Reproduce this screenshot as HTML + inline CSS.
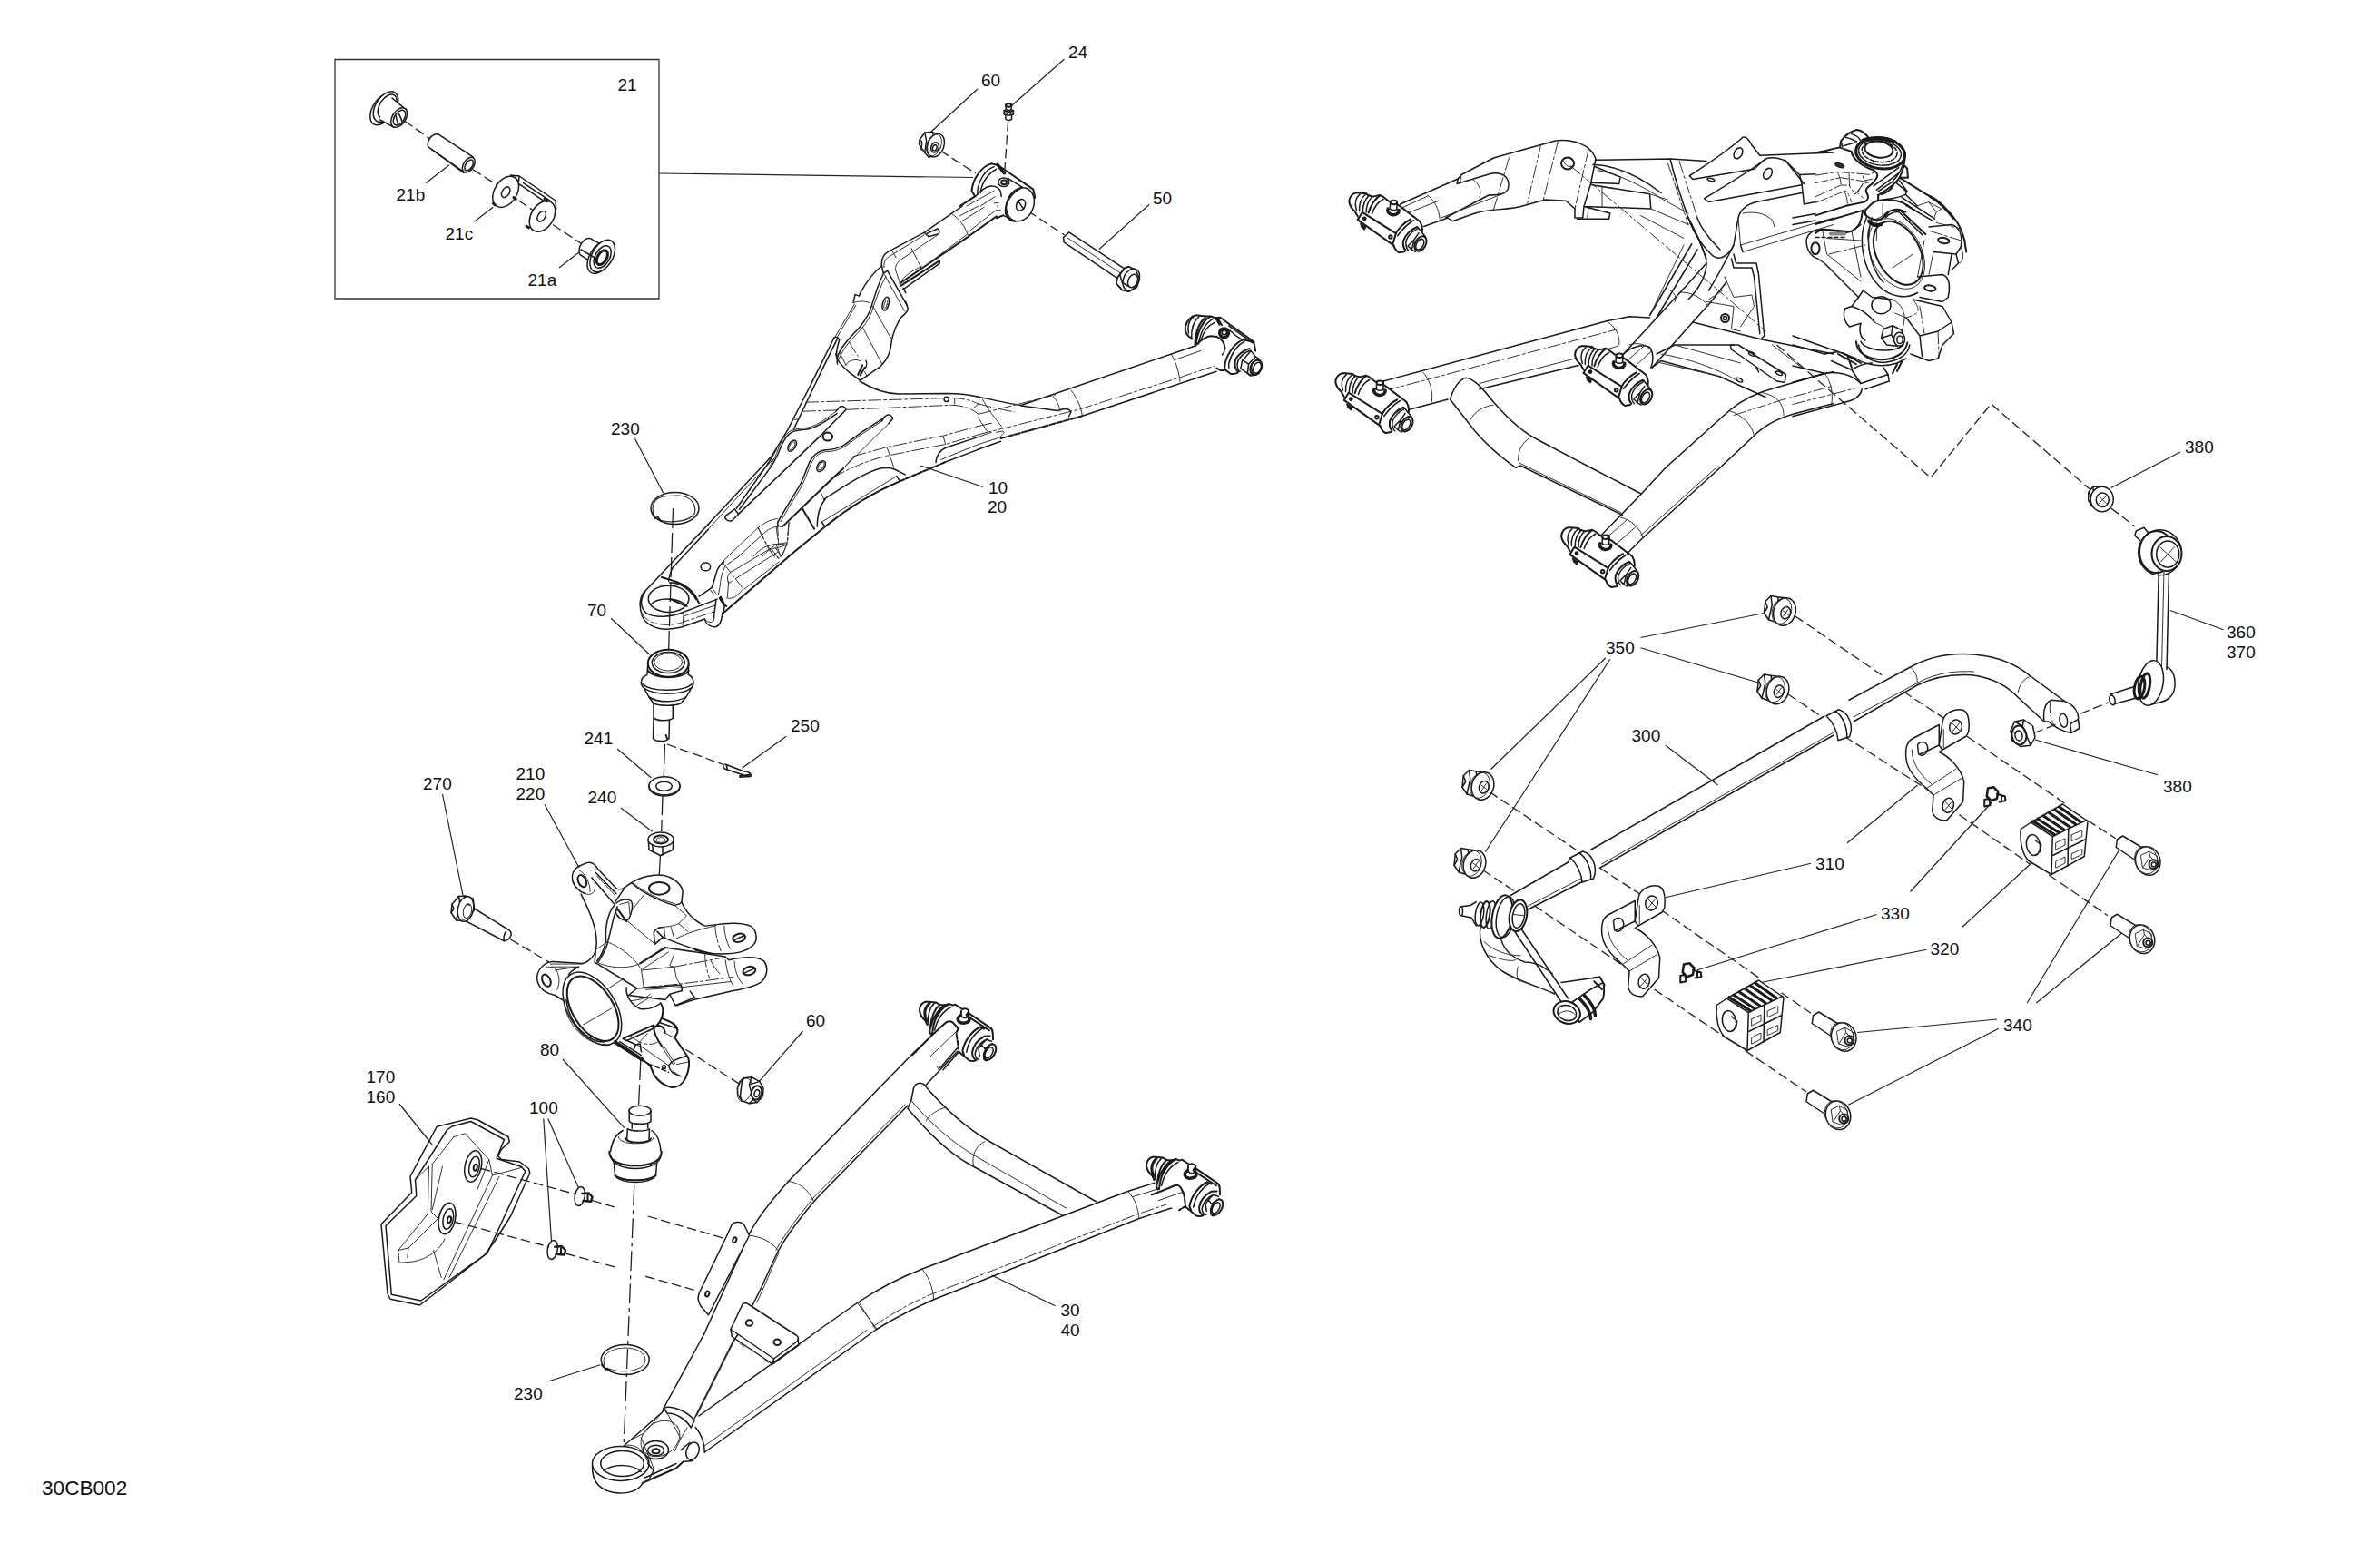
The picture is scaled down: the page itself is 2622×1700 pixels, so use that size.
<!DOCTYPE html>
<html><head><meta charset="utf-8">
<style>
html,body{margin:0;padding:0;background:#fff;}
body{width:2622px;height:1700px;overflow:hidden;font-family:"Liberation Sans",sans-serif;}
svg{display:block;}
svg text{font-family:"Liberation Sans",sans-serif;font-size:19px;fill:#111;}
.s{fill:none;stroke:#1a1a1a;stroke-width:1.5;stroke-linecap:round;stroke-linejoin:round;vector-effect:non-scaling-stroke;}
.s *{vector-effect:non-scaling-stroke;}
.w{fill:#fff;}
.t{stroke-width:1 !important;stroke:#333 !important;}
.p{stroke-width:1 !important;stroke:#333 !important;stroke-dasharray:14 3 3 3;}
.b{stroke-width:2 !important;}
.l{fill:none;stroke:#222;stroke-width:1.2;vector-effect:non-scaling-stroke;}
.l *{vector-effect:non-scaling-stroke;}
.d{fill:none;stroke:#222;stroke-width:1.3;stroke-dasharray:10.5 4.5;vector-effect:non-scaling-stroke;}
.d *{vector-effect:non-scaling-stroke;}
</style></head>
<body>
<svg width="2622" height="1700" viewBox="0 0 2622 1700">
<rect width="2622" height="1700" fill="#fff"/>
<!--LABELS-->
<g id="labels">
<text x="1769" y="719.5">350</text>
<text x="1797.5" y="816.5">300</text>
<text x="2000" y="958">310</text>
<text x="2072" y="1012.5">330</text>
<text x="2126.5" y="1051.5">320</text>
<text x="2207" y="1136">340</text>
<text x="2383" y="872.5">380</text>
<text x="2407" y="499">380</text>
<text x="2453" y="703">360</text>
<text x="2453" y="724.5">370</text>
<text x="46" y="1647.3" style="font-size:22.6px">30CB002</text>
<text x="673" y="479">230</text>
<text x="647" y="679">70</text>
<text x="1168.5" y="1450">30</text>
<text x="1168.5" y="1471.5">40</text>
<text x="403.5" y="1193">170</text>
<text x="403.5" y="1214.5">160</text>
<text x="566" y="1541.5">230</text>
<text x="888" y="1130.5">60</text>
<text x="595" y="1162.5">80</text>
<text x="583" y="1226.5">100</text>
<text x="871" y="806">250</text>
<text x="643.5" y="819.5">241</text>
<text x="568.5" y="859">210</text>
<text x="568.5" y="880.5">220</text>
<text x="466" y="869.5">270</text>
<text x="647.5" y="885">240</text>
<text x="1177" y="64">24</text>
<text x="1081" y="94.5">60</text>
<text x="1270" y="224.5">50</text>
<text x="1089" y="543.5">10</text>
<text x="1088" y="565">20</text>
<text x="680.5" y="99.5">21</text>
<text x="436.5" y="220.5">21b</text>
<text x="490.5" y="263.5">21c</text>
<text x="581.5" y="314.5">21a</text>
</g>
<!--LEADERS-->
<g id="leaders" class="l">
<path d="M1807.5,702.5 L1946.25,675 M1807.5,713.75 L1938.75,752.5 M1768.75,725 L1642.5,847.5 M1773.75,726.25 L1636.25,938.75"/>
<path d="M1835,821.25 L1892.5,865 M1995,951.25 L1835,988.75 M2112.5,865 L2035,928.75 M2067.5,1007.5 L1870,1068.75 M2194.5,883.75 L2104.5,982.5 M2122.5,1046.25 L1940,1082.5 M2247,942.5 L2162,1021.25"/>
<path d="M2377,853.75 L2242,815 M2402,498 L2325.75,537.5 M2390.75,672.5 L2449.5,693.75"/>
<path d="M2337,932.5 L2233.25,1105 M2338.25,1027.5 L2243.25,1105 M2046.25,1137.5 L2200,1123 M2036.3,1217.2 L2201.8,1133.2"/>
<path d="M1092.5,1405 L1162.5,1438.75"/>
<path d="M440,1216.25 L476.25,1261.25 M598.75,1232.5 L607.5,1367.5 M603.75,1232.5 L637.5,1308.75 M603.75,1522 L661.25,1503.75 M884.5,1136 L836.5,1191.4"/>
<path d="M620,1167 L687.7,1242.7"/>
<path d="M866.25,811.25 L817.5,846.25 M680,825 L717.5,857 M683.75,890 L718.75,916.25 M600,886.25 L637.5,955 M487.5,875 L510,986.25 M673.2,681.2 L715.8,721.3 M699.5,483.2 L730.8,543.3"/>
<path d="M1172.5,65 L1115,116 M1077,98 L1026,145 M1266,225.5 L1211,274.5"/>
<path d="M1014,513 L1083,536.5"/>
<path d="M495,181.7 L469,201.7 M543.3,228.3 L522.5,244.2 M637.5,278.3 L616,295"/>
<path d="M726,191 L1072,195.5"/>
</g>
<!--DASHED-->
<g id="dashed" class="d">
<path d="M1957.5,380 L2127,526.25 L2193.5,445 L2302,538.75 M2325.75,560 L2352,580"/>
<path d="M1641,872.5 L1740,938.75 M1762.5,956.25 L1820,993.75 M1830,1002.5 L1940,1078.75 M1962.5,1093.75 L1995,1116.25"/>
<path d="M1633.75,958.75 L1671.25,983.75 M1690,997.5 L1790,1065 M1822.5,1090 L1900,1142.5 M1922.5,1157.5 L1990,1203"/>
<path d="M1977.5,678.75 L2075,745 M2097,762 L2155,800 M2167,811.25 L2274.5,885 M2299.5,903.75 L2330.75,923.75"/>
<path d="M1970,765 L2007.5,790 M2032,811.25 L2125,871 M2158.25,897.5 L2237,952.5 M2257,963.75 L2322,1008.75"/>
<path d="M2240.75,807.5 L2267,797.5 M2292,786.25 L2323.25,773.75"/>
<path d="M530,1287.5 L636.25,1316.25 M652.5,1322.5 L677.5,1330 M713.75,1340 L800,1365 M501.25,1346.25 L605,1373.75 M623.75,1381.25 L678.75,1396.25 M711.25,1406.25 L768.75,1422.5"/>
<path style="stroke-dasharray:22 5 4 5" d="M698.75,1306.25 L686,1622"/>
<path d="M755.3,1156.3 L814.1,1193.9"/>
<path style="stroke-dasharray:22 5" d="M705.8,1168 L703.3,1224"/>
<path d="M735,820 L797.5,842.5 M562.5,1035 L605,1060"/>
<path style="stroke-dasharray:22 5" d="M741.5,560 L736.5,720 M732.5,820 L731.25,856 M730,876 L728.75,916 M727.5,942.5 L726.25,964"/>
<path d="M1110.5,134 L1107,186 M1036,166 L1075,191 M1132.5,232.5 L1172.5,258.75"/>
<path d="M445.8,133.3 L473.3,152.5 M520.8,186.7 L548.3,204.2 M559,212.5 L593.3,235.8 M609,247.5 L641.7,269.2"/>
</g>

<!-- BOX 21 -->
<rect x="369" y="65.5" width="357" height="263.5" class="l" style="stroke:#333;stroke-width:1.3"/>
<g class="s" transform="translate(360 55) scale(0.16667)">
 <!-- bushing top-left -->
 <ellipse cx="372" cy="392" rx="68" ry="116" transform="rotate(33 372 392)" class="w"/>
 <ellipse cx="390" cy="376" rx="66" ry="112" transform="rotate(33 390 376)" class="w"/>
 <ellipse cx="400" cy="372" rx="50" ry="86" transform="rotate(33 400 372)"/>
 <path class="w" d="M425,315 L505,378 L448,515 L350,455 Z" style="stroke:none"/>
 <path d="M432,318 L508,382 M352,462 L445,512"/>
 <ellipse cx="478" cy="447" rx="44" ry="72" transform="rotate(33 478 447)" class="w"/>
 <ellipse cx="480" cy="448" rx="32" ry="56" transform="rotate(33 480 448)"/>
 <path d="M455,430 L470,490 M478,425 L498,470"/>
 <!-- sleeve 21b -->
 <path class="w" d="M740,558 L968,708 L905,812 L672,642 C655,610 690,550 740,558 Z"/>
 <ellipse cx="938" cy="760" rx="34" ry="56" transform="rotate(33 938 760)" class="w"/>
 <ellipse cx="940" cy="762" rx="22" ry="40" transform="rotate(33 940 762)"/>
 <path d="M690,655 L890,795"/>
 <!-- clip 21c -->
 <path class="w" d="M1215,828 L1272,834 L1512,996 L1516,1052 L1480,1030 L1262,880 Z"/>
 <path d="M1272,834 L1268,880 M1300,880 L1480,1000"/>
 <ellipse cx="1183" cy="938" rx="74" ry="112" transform="rotate(32 1183 938)" class="w"/>
 <ellipse cx="1183" cy="940" rx="24" ry="38" transform="rotate(32 1183 940)"/>
 <ellipse cx="1425" cy="1100" rx="74" ry="110" transform="rotate(32 1425 1100)" class="w"/>
 <ellipse cx="1420" cy="1100" rx="24" ry="38" transform="rotate(32 1420 1100)"/>
 <path d="M1440,985 L1455,1000 M1235,975 L1250,985 M1320,1165 L1335,1175 M1100,1015 L1112,1025" style="stroke-width:3"/>
 <!-- bushing 21a -->
 <path class="w" d="M1742,1246 L1810,1285 L1745,1400 L1672,1352 C1655,1300 1700,1240 1742,1246 Z"/>
 <ellipse cx="1805" cy="1372" rx="68" ry="116" transform="rotate(30 1805 1372)" class="w"/>
 <ellipse cx="1822" cy="1362" rx="68" ry="116" transform="rotate(30 1822 1362)" class="w"/>
 <ellipse cx="1822" cy="1368" rx="48" ry="80" transform="rotate(30 1822 1368)"/>
 <ellipse cx="1820" cy="1372" rx="30" ry="52" transform="rotate(30 1820 1372)" style="stroke-width:3"/>
 <path d="M1680,1320 L1790,1385"/>
</g>


<!-- UPPER ARM: B1 gusset region (scale 8, origin 780,420) -->
<g class="s" transform="translate(780 420) scale(0.1252)">
 <path d="M0,1260 L560,660 L700,430 L920,0"/>
 <path class="t" d="M0,1305 L250,1030 L570,690"/>
 <path d="M955,0 L755,420"/>
 <path class="t" d="M760,340 L800,330"/>
 <!-- left rod cap + rod -->
 <path d="M155,1185 L235,1125 M210,1228 L268,1170 M235,1125 L268,1170 M155,1185 C140,1205 170,1240 210,1228"/>
 <path d="M250,1120 L545,700 L600,600 M275,1130 L520,800"/>
 <!-- left gusset plate -->
 <path d="M270,1167 L760,700 L1010,460 L1175,290"/>
 <path d="M1125,265 L1160,225 C1180,212 1212,228 1214,250 L1172,296"/>
 <path d="M1135,285 C1050,340 980,395 900,418 C850,432 790,425 740,447 C690,470 655,540 632,600 C612,660 580,720 520,800"/>
 <path class="t" d="M1125,268 C1045,325 975,380 895,404 C845,418 785,412 733,434 C680,458 642,530 620,592 C600,650 570,705 545,745"/>
 <ellipse cx="740" cy="568" rx="30" ry="54" transform="rotate(32 740 568)"/>
 <ellipse cx="740" cy="568" rx="19" ry="40" transform="rotate(32 740 568)" class="t"/>
 <ellipse cx="1053" cy="488" rx="42" ry="36" class="b"/>
 <!-- right gusset plate -->
 <path class="b" d="M660,1275 L1100,850 L1190,768"/>
 <path class="t" d="M1190,768 L1590,372"/>
 <path d="M618,1232 C600,1260 630,1290 660,1275"/>
 <path d="M618,1232 L690,1110 L800,930 C830,880 860,790 890,720 C910,670 960,615 1030,605 C1080,605 1130,600 1200,560 L1350,450 L1520,340"/>
 <path class="t" d="M640,1235 L705,1120 L815,940 C845,890 875,800 905,730 C925,680 970,628 1035,620 C1090,620 1140,612 1210,572 L1360,462 L1528,352"/>
 <path d="M1525,340 L1570,300 C1595,288 1626,308 1626,330 L1590,372 M1528,352 L1545,330"/>
 <ellipse cx="995" cy="748" rx="32" ry="52" transform="rotate(32 995 748)"/>
 <ellipse cx="995" cy="748" rx="20" ry="38" transform="rotate(32 995 748)" class="t"/>
 <!-- crotch curve -->
 <path d="M1335,0 C1450,70 1550,110 1680,112 L2100,108 C2250,110 2330,125 2380,137"/>
 <path class="p" d="M860,185 L2050,150 C2200,140 2300,160 2380,200"/>
 <path class="p" d="M835,265 L1125,255 M1215,250 L2150,210 C2250,215 2320,240 2380,290"/>
 <circle cx="2098" cy="158" r="21"/>
 <path class="t" d="M2170,150 L2170,200 M2340,232 L2380,200"/>
 <!-- lower plate -->
 <path class="p" d="M1280,660 L1575,580 L2070,480 L2380,395"/>
 <path class="t" d="M1280,665 L1190,770"/>
 <path class="p" d="M1100,850 C1250,760 1400,700 1580,655 L2090,555 L2380,470"/>
 <path class="t" d="M1575,580 L1635,760 M2070,485 L2090,555"/>
 <path d="M1020,1040 C1200,920 1400,790 1530,765 C1580,760 1620,765 1640,775 L1735,822"/>
 <path class="t" d="M990,970 L1020,1040"/>
 <path class="b" d="M710,1541 L1030,1280 C1250,1100 1500,960 1690,880"/>
 <path class="b" d="M1690,880 L2080,715" style="stroke-dasharray:5 2"/>
 <path d="M2080,715 L2380,600"/>
 <path class="t" d="M1000,1240 L1660,835 M2050,690 L2380,555"/>
 <path d="M1000,1240 L1030,1278 M1660,835 L1688,880"/>
 <path d="M960,1280 C960,1180 980,1100 1030,1040"/>
 <path class="b" d="M830,1120 L935,1300"/>
 <path d="M2005,715 C2010,650 2040,600 2120,575 L2380,490"/>
 <!-- lower-left thin -->
 <path class="t" d="M175,1541 L440,1290 C500,1240 560,1215 610,1210 M270,1541 L490,1340 C530,1300 580,1280 620,1280 M400,1541 C450,1480 520,1440 600,1435 L690,1420 M480,1541 C520,1490 560,1470 600,1470 L690,1440 M600,1440 L640,1541"/>
 <path class="p" d="M440,1290 C480,1360 510,1450 580,1541 M600,1280 L620,1430 M712,1240 L700,1420 L650,1541"/>
</g>


<!-- UPPER ARM: B2 ball joint end (scale 8, origin 690,560) -->
<g class="s" transform="translate(690 560) scale(0.1252)">
 <path d="M720,142 L400,480 L290,597 L150,745 C115,800 115,880 140,950 C170,1020 260,1065 350,1065 C420,1062 460,1052 490,1045 L690,975"/>
 <path d="M720,187 L410,520 C385,560 380,600 372,640"/>
 <!-- bore -->
 <ellipse cx="372" cy="797" rx="178" ry="117"/>
 <path d="M215,848 C270,785 450,775 535,862"/>
 <path class="b" d="M390,800 L520,860"/>
 <path d="M165,735 C120,800 120,880 180,925 C250,965 400,960 500,915 L800,800"/>
 <path class="p" d="M128,900 C150,990 260,1030 380,1025 C440,1020 480,1010 500,1000 L775,910"/>
 <path class="t" d="M510,948 L790,852 M505,920 L495,1045"/>
 <path d="M790,800 L770,962"/>
 <path d="M690,975 C700,1020 740,1050 790,1042 C830,1030 840,980 845,925"/>
 <path class="t" d="M700,985 C720,1005 750,1010 770,990 L775,960"/>
 <path d="M845,800 C872,850 862,900 842,930"/>
 <path class="b" d="M310,607 C420,640 570,660 640,835"/>
 <path d="M380,655 C470,650 570,720 612,800"/>
 <path class="b" d="M820,790 C835,815 855,845 880,862 M830,780 L850,830"/>
 <path d="M640,775 L750,700 C770,660 780,600 800,545 C815,510 830,490 860,470"/>
 <ellipse cx="698" cy="515" rx="42" ry="35"/>
 <!-- channel -->
 <path class="t" d="M840,480 L895,424 M880,500 L990,424 M930,557 L1300,335 M960,620 L1330,388 M1040,710 L1345,470"/>
 <path class="t" d="M870,510 C840,560 830,620 822,700 L810,760 M925,555 C890,580 880,620 900,660 L930,640 M900,640 L890,780 M740,720 L770,760 M760,710 L790,750"/>
 <path class="p" d="M850,480 C900,540 960,620 1030,710"/>
 <path class="t" d="M1030,710 L990,750 C960,785 920,800 880,790"/>
 <path class="p" d="M1160,170 C1200,250 1230,320 1300,420 L1340,440 M1330,130 L1340,330 M1430,130 L1415,300"/>
 <path class="t" d="M1415,300 C1400,360 1380,400 1350,432 M1250,332 C1300,310 1350,310 1410,322 M1280,360 L1340,440 M1310,345 L1360,420"/>
 <path class="b" d="M1431,424 L850,925"/>
</g>
<!-- snap ring 230 upper -->
<g class="s">
 <ellipse cx="743.5" cy="560" rx="26.5" ry="17.5"/>
 <path d="M719.5,565 C716,545 735,546 748,546 C765,547 767,560 765,566 C758,576 735,576 727,573" class="t" style="stroke-width:1.2 !important"/>
 <path class="b" d="M719,566 L722,571 M724,569 L728,574"/>
</g>


<defs>
<g id="bushR" class="s">
 <!-- bushing end, coords at 15.9x relative to (1280,330) -->
 <path class="w" style="stroke:none" d="M530,690 C440,640 400,560 410,480 C430,380 510,290 600,275 L850,295 L1020,315 L1610,740 L1640,900 L1720,1050 L1750,1190 L1700,1290 L1550,1330 L1330,1280 L1200,1300 L1110,1230 L960,1200 L600,800 Z"/>
 <path class="b" d="M530,690 C440,640 400,560 410,480 C430,380 510,290 600,275 L760,295"/>
 <path d="M560,295 C480,360 440,460 470,590 M650,300 C560,380 510,500 520,690"/>
 <path class="b" d="M760,320 C660,400 590,520 580,790 M850,295 C720,370 620,560 595,800"/>
 <path d="M905,335 C770,400 680,560 640,780 M930,400 C820,450 730,560 690,700"/>
 <path class="b" d="M760,295 L850,295 L940,320 L1020,315 L1610,740 L1640,900"/>
 <path class="b" d="M980,330 L1050,450 M940,320 L1010,440"/>
 <path d="M1170,460 L1590,760 M1190,540 C1250,600 1330,660 1400,700"/>
 <circle cx="1090" cy="585" r="78" style="stroke-width:3.5"/>
 <circle cx="1095" cy="575" r="40"/>
 <path class="b" d="M600,790 C700,700 800,640 860,640 L960,650 C1040,690 1100,760 1105,850"/>
 <path d="M1105,850 C1100,900 1080,940 1055,970" style="stroke-dasharray:4 2"/>
 <path class="b" d="M1420,705 C1300,750 1170,900 1110,1100 L1100,1195"/>
 <path d="M1445,740 C1320,800 1210,950 1170,1130 L1175,1200"/>
 <path class="b" d="M1420,702 L1610,745"/>
 <path class="b" d="M1530,860 C1400,900 1290,1000 1280,1100 C1275,1180 1300,1240 1340,1265"/>
 <path d="M1552,890 C1430,930 1330,1030 1320,1130 C1320,1200 1340,1240 1370,1260"/>
 <path d="M1560,900 L1640,1000 L1720,1050 M1410,1060 L1520,1130 L1500,1290 M1410,1060 L1380,1210 L1500,1290 M1420,1060 L1560,900 M1520,1130 L1640,1000"/>
 <ellipse cx="1650" cy="1190" rx="95" ry="135" transform="rotate(25 1650 1190)" class="b w"/>
 <ellipse cx="1670" cy="1195" rx="62" ry="100" transform="rotate(25 1670 1195)"/>
 <path d="M1580,1120 C1560,1180 1570,1240 1600,1290"/>
 <path class="b" d="M960,1200 C1000,1250 1060,1250 1110,1230 L1200,1300 C1250,1310 1300,1300 1330,1280 M1500,1290 L1550,1330 C1600,1330 1650,1320 1700,1290"/>
</g>
</defs>
<!-- UPPER ARM: tube to right bushing (scale 4 origin 1060,300) -->
<g class="s" transform="translate(1060 300) scale(0.25)">
 <path d="M72,549 C150,565 200,578 260,586 L1010,330 L1090,302"/>
 <path d="M260,588 L420,610 C450,598 472,600 480,615 L470,635"/>
 <path class="b" d="M170,732 L530,633" style="stroke-dasharray:6 2"/>
 <path d="M72,780 L170,745 M530,633 L1120,437"/>
 <path class="p" d="M72,580 C150,600 200,610 230,615 M72,625 L410,540 M72,715 L520,603 L955,465 L1125,408"/>
 <path class="t" d="M72,678 L130,665 M72,758 L160,730 C180,715 190,705 180,700 L150,705 M72,725 L130,705"/>
 <path class="t" d="M400,545 C420,570 428,590 432,612 M480,520 C510,560 525,600 530,632 M920,358 C945,400 955,440 960,482 M940,385 L1115,323"/>
 <path class="t" d="M90,560 C110,600 150,650 175,680 M70,640 L110,700"/>
</g>
<g class="s" transform="translate(1280 330) scale(0.0629)"><use href="#bushR"/></g>


<!-- UPPER ARM: B4 upper-left portion (scale 8 origin 860,227) -->
<g class="s" transform="translate(860 227) scale(0.1252)">
 <path d="M281,1541 L470,1160 M316,1541 L500,1165"/>
 <path d="M465,1165 C470,1148 510,1150 516,1180 L500,1240 C488,1290 488,1310 500,1345"/>
 <path class="t" d="M480,1150 L650,862 M500,1150 L662,872"/>
 <path d="M640,850 L655,778 L690,792 L703,760 C760,660 820,580 890,527 C885,470 905,425 945,403 L1265,232 L1500,68 L1600,0"/>
 <path class="t" d="M910,540 C905,500 920,462 960,442 L1262,255"/>
 <path d="M890,527 L905,592 L935,572"/>
 <path d="M905,595 C860,680 830,780 800,880 C780,960 740,1010 700,1060 C640,1130 560,1200 520,1280 C500,1320 490,1350 500,1390"/>
 <path class="t" d="M925,620 C880,700 850,790 815,890 C795,965 760,1020 720,1070 C660,1140 580,1210 540,1290 L510,1350"/>
 <path class="t" d="M640,850 C690,835 740,835 780,850"/>
 <path d="M485,1300 C490,1360 540,1410 600,1460 L700,1535 L880,1410 C940,1350 970,1290 975,1200 C985,1120 1030,1020 1060,980 C1090,950 1122,930 1120,900 L1100,840"/>
 <path d="M940,570 L1115,880"/>
 <path class="t" d="M915,605 L1090,925"/>
 <path class="b" d="M1060,700 L1400,480"/>
 <path d="M1075,735 L1400,505 L1400,480 M1100,765 L1080,722"/>
 <path class="b" d="M1050,680 L1650,270 L1900,90"/>
 <path class="t" d="M1240,550 L1640,250"/>
 <path class="t" d="M1010,560 C1010,520 1030,490 1060,470 L1380,255 M1010,560 L1055,690 M1070,650 C1100,610 1140,580 1240,530 M985,400 L1015,455"/>
 <path class="p" d="M1150,370 L1240,550"/>
 <path d="M1265,235 L1295,262 M1290,240 L1380,200 C1396,205 1402,230 1390,245 L1300,270"/>
 <path class="t" d="M1510,70 C1580,120 1630,190 1650,265 M1570,90 L1740,0 M1600,130 L1790,10 M1650,230 L1890,40 C1910,32 1930,30 1942,42"/>
 <ellipse cx="925" cy="860" rx="27" ry="60" transform="rotate(15 925 860)"/>
 <ellipse cx="925" cy="862" rx="12" ry="40" transform="rotate(15 925 862)" class="t"/>
 <path class="t" d="M810,880 L975,1170 M720,1065 L895,1395 M520,1290 L575,1400 M740,1460 L760,1500"/>
 <path class="p" d="M600,1195 L680,1320"/>
 <path class="t" d="M570,1400 C600,1360 650,1340 700,1362"/>
 <path class="b" d="M680,1485 L720,1400 M700,1490 L740,1420"/>
 <path d="M750,1360 C762,1380 756,1412 740,1432"/>
</g>


<!-- TILE A: top bushing, nut 60, fitting 24, bolt 50 (scale 8 origin 1000,100) -->
<g class="s" transform="translate(1000 100) scale(0.1252)">
 <!-- nut 60 -->
 <path class="w" d="M215,362 L150,368 L105,430 L100,470 L150,545 L185,585 L260,560 L300,400 Z"/>
 <path d="M150,368 L165,440 L150,545 M105,430 L125,450 L120,520 M215,362 L225,385"/>
 <ellipse cx="247" cy="480" rx="72" ry="106" transform="rotate(20 247 480)" class="w"/>
 <ellipse cx="232" cy="478" rx="62" ry="100" transform="rotate(20 232 478)" style="fill:none" class="t"/>
 <ellipse cx="240" cy="498" rx="34" ry="46" transform="rotate(20 240 498)"/>
 <ellipse cx="238" cy="502" rx="18" ry="26" transform="rotate(20 238 502)"/>
 <!-- fitting 24 -->
 <ellipse cx="888" cy="128" rx="26" ry="14" class="b"/>
 <path d="M862,130 L866,165 L848,175 L848,205 L862,215 L862,250 C875,262 900,262 915,250 L915,215 L930,205 L930,175 L912,165 L914,130"/>
 <path d="M848,175 C870,190 910,190 930,175 M848,205 C870,220 910,220 930,205 M866,165 C880,172 900,172 912,165 M875,180 L875,212 M905,180 L905,212"/>
 <!-- arm tube end -->
 <path class="b" d="M462,1014 L595,928"/>
 <path class="b" d="M782,1120 L840,1097"/>
 <path class="t" d="M519,1014 L760,880 M642,1014 L770,930 M760,990 L800,985"/>
 <path d="M600,925 C640,880 680,850 720,840 C760,835 800,850 815,880 L825,930"/>
 <path class="t" d="M790,1010 L800,1060" style="stroke-dasharray:3 3"/>
 <!-- housing -->
 <path class="b" d="M738,642 C660,660 575,760 563,880 L590,925"/>
 <path d="M760,668 C690,690 620,780 612,900 M780,690 C720,720 650,800 640,900"/>
 <path class="b" d="M738,642 L795,655 L1105,868 L1120,940"/>
 <path d="M790,650 L850,725" style="stroke-width:3.5"/>
 <path d="M880,770 L1010,850"/>
 <ellipse cx="845" cy="805" rx="48" ry="38"/>
 <ellipse cx="848" cy="805" rx="25" ry="19" class="b"/>
 <ellipse cx="990" cy="1000" rx="118" ry="152" transform="rotate(22 990 1000)" class="w"/>
 <path class="b" d="M1000,853 C900,900 850,1000 862,1080 L880,1115 C900,1140 930,1150 950,1148"/>
 <ellipse cx="995" cy="1005" rx="38" ry="52" transform="rotate(25 995 1005)"/>
 <path d="M975,975 L1020,1040"/>
 <path d="M840,1097 L880,1115"/>
 <!-- bolt 50 shaft -->
 <path d="M1370,1290 L1420,1245 L1960,1600 M1370,1290 L1375,1332 L1890,1680"/>
 <path class="t" d="M1400,1290 L1925,1640"/>
</g>
<!-- bolt 50 head (scale 4 origin 940,40) -->
<g class="s" transform="translate(940 40) scale(0.25)">
 <path class="w" d="M1165,1062 L1160,1090 L1185,1118 L1215,1125 L1250,1105 L1262,1070 L1245,1030 L1215,1015 L1195,1022 Z"/>
 <path d="M1195,1022 L1175,1050 L1185,1085 L1210,1100 M1175,1050 L1165,1062 M1215,1015 L1195,1022"/>
 <ellipse cx="1225" cy="1072" rx="34" ry="50" transform="rotate(25 1225 1072)"/>
 <ellipse cx="1232" cy="1078" rx="20" ry="30" transform="rotate(25 1232 1078)"/>
 <path d="M1160,1090 L1185,1118 L1215,1125"/>
</g>


<!-- TILE D: ball joint 70, washer 241, nut 240, pin 250, bolt 270 (scale 4 origin 440,690) -->
<g class="s" transform="translate(440 690) scale(0.25)">
 <!-- ball joint 70 -->
 <path class="w" d="M1095,165 L1090,215 L1068,240 L1075,270 L1100,312 L1120,340 L1120,410 L1118,495 C1130,510 1175,510 1188,495 L1190,410 L1205,410 L1205,340 L1240,340 L1265,310 L1290,265 L1293,240 L1272,215 L1275,165 Z" style="stroke:none"/>
 <ellipse cx="1185" cy="163" rx="90" ry="60" class="b w"/>
 <ellipse cx="1185" cy="160" rx="72" ry="46"/>
 <ellipse cx="1185" cy="158" rx="62" ry="38" class="t"/>
 <path d="M1095,165 L1092,212 M1275,165 L1273,212"/>
 <path class="b" d="M1095,195 C1120,235 1250,235 1275,195"/>
 <path d="M1090,215 C1060,225 1060,260 1078,272 C1120,305 1250,305 1288,270 C1300,255 1300,225 1273,212"/>
 <path d="M1072,255 C1110,290 1255,290 1292,252"/>
 <path d="M1078,272 L1100,312 C1140,338 1225,338 1265,310 L1288,270"/>
 <path d="M1100,312 L1120,340 M1265,310 L1240,340 M1120,340 C1150,352 1210,352 1240,340"/>
 <path d="M1120,340 L1120,405 C1140,418 1190,418 1205,405 L1205,345"/>
 <path d="M1120,405 L1118,495 C1130,510 1175,510 1188,495 L1190,412"/>
 <path d="M1175,480 L1180,495" class="b"/>
 <!-- pin 250 -->
 <path d="M1428,612 C1425,620 1430,628 1438,630 L1515,655 M1435,608 L1520,640 C1540,640 1552,650 1548,662 L1500,665 M1440,610 L1445,628"/>
 <path class="b" d="M1500,660 L1545,655"/>
 <!-- washer 241 -->
 <ellipse cx="1168" cy="708" rx="68" ry="40" class="w"/>
 <ellipse cx="1168" cy="703" rx="68" ry="40" class="w"/>
 <ellipse cx="1166" cy="705" rx="35" ry="20"/>
 <!-- nut 240 -->
 <path class="w" d="M1097,940 L1100,985 L1150,1010 L1205,985 L1207,940 Z"/>
 <ellipse cx="1152" cy="940" rx="56" ry="32" class="w"/>
 <ellipse cx="1152" cy="940" rx="32" ry="18" class="b"/>
 <ellipse cx="1153" cy="942" rx="20" ry="11" class="t"/>
 <path d="M1160,970 L1160,1008 M1115,962 L1118,995"/>
 <!-- bolt 270 -->
 <path class="w" d="M300,1225 L485,1340 C498,1352 495,1380 462,1387 L275,1290 Z"/>
 <path d="M470,1345 C460,1360 458,1375 462,1387"/>
 <path class="w" d="M262,1190 L232,1225 L228,1262 L250,1295 L290,1300 L330,1250 L325,1200 L290,1188 Z"/>
 <path d="M262,1190 L268,1225 L250,1295 M232,1225 L240,1245 L228,1262"/>
 <ellipse cx="292" cy="1246" rx="34" ry="56" transform="rotate(12 292 1246)" class="w"/>
 <path d="M300,1225 L310,1228 M275,1290 L285,1292"/>
 <ellipse cx="300" cy="1255" rx="18" ry="32" transform="rotate(12 300 1255)" class="t"/>
</g>


<!-- KNUCKLE K1 (scale 8 origin 570,940) -->
<g class="s" transform="translate(570 940) scale(0.1252)">
 <!-- top-left ear -->
 <path d="M600,355 C560,350 500,300 485,240 C475,180 500,140 530,120 L610,85 C650,75 690,100 705,135 L860,300 C880,322 910,322 930,310 L1000,262"/>
 <ellipse cx="570" cy="245" rx="34" ry="56" transform="rotate(-25 570 245)" class="b"/>
 <path class="t" d="M610,85 C570,95 545,115 535,130 M545,150 C600,180 640,260 640,340"/>
 <path class="p" d="M600,355 C640,380 690,345 685,290 C683,260 670,235 655,215"/>
 <path d="M655,215 L850,445 M690,172 L870,355"/>
 <path class="t" d="M640,150 L690,145 M700,200 L860,372"/>
 <!-- big left sweep -->
 <path d="M560,360 C640,520 720,700 690,850 C680,900 640,950 580,970 L310,955"/>
 <!-- lower-left ear -->
 <path d="M310,955 C230,960 160,1040 175,1120 C190,1200 270,1240 330,1250 L400,1292"/>
 <ellipse cx="255" cy="1120" rx="34" ry="56" transform="rotate(-25 255 1120)" class="b"/>
 <path class="t" d="M330,1010 C370,1060 380,1140 350,1200 M290,975 L570,975 M300,1000 L540,1000 M330,1030 L520,1002 M250,1000 C300,1000 330,1010 330,1010"/>
 <path d="M540,1000 C500,1020 470,1040 450,1070"/>
 <!-- hub bore -->
 <ellipse cx="658" cy="1368" rx="355" ry="208" transform="rotate(57.7 658 1368)" class="w"/>
 <ellipse cx="664" cy="1368" rx="318" ry="178" transform="rotate(57.7 664 1368)" class="b"/>
 <path class="t" d="M405,1290 C420,1420 480,1530 580,1610 C640,1660 720,1690 780,1680"/>
 <path d="M430,1290 C445,1410 500,1515 590,1590 C650,1640 720,1665 770,1660"/>
 <path class="t" d="M580,1510 L830,1365 M800,1190 L940,1100"/>
 <!-- center web -->
 <path d="M690,850 L680,960 L1040,1180"/>
 <path class="t" d="M690,850 C720,830 760,800 790,780"/>
 <path d="M855,455 C800,520 770,640 780,760 C770,830 740,900 700,950"/>
 <path d="M880,470 C840,560 830,660 800,760 C790,830 750,900 710,960"/>
 <path class="t" d="M790,780 C900,820 1030,920 1090,1020 L1112,1180 M700,960 C800,1010 950,1020 1060,980 C1150,940 1250,860 1320,830"/>
 <!-- top boss -->
 <path d="M1000,262 C1080,210 1200,180 1290,195 C1380,215 1450,280 1455,340 L1445,430 C1480,520 1560,600 1650,640 L1740,630"/>
 <ellipse cx="1248" cy="310" rx="90" ry="55" class="b"/>
 <path d="M1010,265 C1080,330 1200,400 1380,460 C1420,452 1440,442 1445,430"/>
 <path class="t" d="M1030,270 C1100,330 1210,395 1385,445 M1110,370 L1010,500 M1385,460 L1490,550 L1420,620 C1380,640 1300,650 1240,655"/>
 <!-- bracket loop -->
 <path d="M870,440 C900,410 960,395 1000,420 C1022,450 1010,520 980,580 C950,602 900,580 880,550"/>
 <path class="t" d="M900,450 L980,430 L990,540"/>
 <path class="b" d="M880,490 L960,600"/>
 <path d="M870,500 C860,520 870,545 890,555 M940,310 L860,430"/>
 <path class="t" d="M960,590 L1210,800"/>
 <!-- notch -->
 <path d="M1210,800 L1200,700 C1210,670 1240,650 1290,650 M1210,800 L1280,740 L1230,690"/>
 <path d="M1280,740 C1400,790 1550,850 1700,880"/>
 <!-- arm 1 -->
 <path d="M1740,630 C1850,610 1980,610 2050,640 C2100,670 2115,740 2090,790 C2050,850 1950,880 1850,885 C1750,890 1650,880 1560,850"/>
 <ellipse cx="1950" cy="745" rx="56" ry="36" transform="rotate(-15 1950 745)" class="b"/>
 <path d="M1905,765 L1995,725"/>
 <path class="p" d="M1740,630 C1740,700 1760,780 1790,860"/>
 <path class="t" d="M1820,640 C1820,700 1840,780 1870,840 M1400,750 C1500,700 1600,670 1740,640 M1290,650 L1300,740 M1350,650 L1380,750 M1420,620 L1500,690"/>
 <!-- arm 2 -->
 <path d="M1300,830 C1500,860 1700,890 1830,910 L1860,940 C1950,920 2100,900 2170,950 C2210,1000 2200,1080 2150,1130 C2100,1170 2000,1190 1900,1210 L1550,1290 L1400,1340"/>
 <ellipse cx="2040" cy="1035" rx="56" ry="36" transform="rotate(-15 2040 1035)" class="b"/>
 <path d="M1995,1055 L2085,1015"/>
 <path class="t" d="M1830,940 C1840,1020 1860,1100 1900,1170 M1910,950 C1910,1030 1940,1100 1980,1150 M1700,940 C1720,990 1750,1030 1780,1060 M1380,1000 L1400,1100 L1440,1170 M1100,1030 L1380,1000 M1130,1200 L1440,1180 L1880,1130 M1330,870 L1100,1020 M1380,890 L1340,990 L1380,1000"/>
 <path class="p" d="M1650,890 C1650,960 1670,1040 1690,1100 M1380,1000 L1650,950 L1830,915 M1110,1180 L1440,1150 L1900,1090"/>
 <path class="b" d="M1300,830 L1080,970"/>
 <!-- bottom -->
 <path d="M960,1180 C950,1250 1000,1330 1080,1370 C1150,1380 1220,1350 1260,1320"/>
 <path d="M980,1250 L1050,1190 L1440,1160 L1450,1210 L1340,1240 L1300,1290 Z M1340,1240 L1390,1340 L1560,1270 L1520,1215"/>
 <path class="t" d="M1000,1300 C1050,1290 1120,1290 1170,1240 M1050,1340 L1180,1260"/>
 <path class="b" d="M1260,1320 C1300,1380 1280,1480 1200,1541"/>
 <path d="M1250,1490 L1400,1541"/>
</g>
<!-- KNUCKLE K2 lower (scale 8 origin 570,1100) -->
<g class="s" transform="translate(570 1100) scale(0.1252)">
 <path class="b" d="M1200,263 L1200,235 L930,352"/>
 <path d="M1190,268 L960,372"/>
 <path d="M860,385 L1100,540" style="stroke-width:4"/>
 <path d="M900,380 L1090,500 M930,355 L1040,405"/>
 <path class="b" d="M1270,175 L1330,200 C1390,225 1415,260 1408,300 L1385,345 L1500,515 C1520,560 1510,640 1480,700 C1450,760 1400,790 1350,780 C1300,770 1240,730 1200,670 C1180,620 1180,600 1150,575 L1100,540"/>
 <path class="b" d="M1200,240 C1195,300 1230,360 1270,420 M1215,250 C1240,230 1270,240 1290,270 L1300,300"/>
 <path class="t" d="M1290,300 L1390,352 M1270,420 L1370,580 M1285,415 L1385,570 M1100,430 L1330,590 M1030,400 L1100,430 M1370,640 L1440,690 M1400,580 L1500,560"/>
 <path d="M1330,590 C1350,560 1400,530 1480,510 M1330,590 C1340,640 1380,670 1430,680"/>
 <circle cx="1290" cy="605" r="15"/>
 <path d="M1040,405 L1080,400 L1090,470 M1040,405 L1030,440"/>
 <path class="p" d="M1000,330 C1080,410 1180,420 1240,380 M1070,390 L1200,250"/>
 <path d="M1150,575 L1240,610 L1330,650" style="stroke-dasharray:5 3"/>
 <!-- nut 60 lower -->
 <path class="w" d="M1990,700 L2060,692 L2130,730 L2165,790 L2160,860 L2110,915 L2040,925 L1975,900 L1940,850 L1935,790 L1955,735 Z"/>
 <ellipse cx="2000" cy="805" rx="62" ry="105" transform="rotate(15 2000 805)" class="t" style="fill:none"/>
 <path d="M2060,692 L2040,760 L2075,890 M2130,730 L2040,760 M1990,700 L1975,740 L1960,860 L1975,900 M2075,890 L2110,915 M2075,890 L2040,925"/>
 <ellipse cx="2105" cy="830" rx="45" ry="62" transform="rotate(15 2105 830)" class="b w"/>
 <ellipse cx="2108" cy="835" rx="22" ry="32" transform="rotate(15 2108 835)"/>
</g>


<!-- TILE E: guard, ball joint 80, screws 100, snap ring (scale 4 origin 390,1170) -->
<g class="s" transform="translate(390 1170) scale(0.25)">
 <!-- guard -->
 <path d="M515,248 L365,285 L248,505 L255,575 L120,715 L148,1022 L160,1045 L290,1072 L575,852 L620,790 L690,680 L775,490 L770,470 L730,440 L650,430 L635,415 L650,385 L685,352 L680,330 L545,255 Z"/>
 <path d="M515,262 L432,284 L410,300 L270,520 L275,590 L140,722 L165,1025 L295,1052 L588,842 L755,482 L738,462 L628,425 L662,342 Z"/>
 <path class="t" d="M440,330 L490,315 L595,430 L545,560 M345,450 L440,330 M345,450 L340,660 L370,690 M330,460 L325,670 L195,830 L200,885 L260,880 C320,870 380,830 400,780 M370,690 L240,820 L235,862 M195,830 L240,820 M390,460 L345,650 M595,430 L610,500 L740,465 M610,500 L395,960 M640,505 L420,950 M350,830 L385,950 M270,520 L330,460"/>
 <ellipse cx="525" cy="460" rx="36" ry="70" transform="rotate(12 525 460)" class="w"/>
 <ellipse cx="530" cy="462" rx="22" ry="46" transform="rotate(12 530 462)"/>
 <ellipse cx="535" cy="465" rx="8" ry="14" transform="rotate(12 535 465)" class="b"/>
 <ellipse cx="410" cy="690" rx="36" ry="70" transform="rotate(12 410 690)" class="w"/>
 <ellipse cx="415" cy="692" rx="22" ry="46" transform="rotate(12 415 692)"/>
 <ellipse cx="420" cy="695" rx="8" ry="14" transform="rotate(12 420 695)" class="b"/>
 <!-- ball joint 80 -->
 <path class="w" style="stroke:none" d="M1213,215 L1213,300 L1165,310 L1130,395 L1145,440 L1150,505 L1240,540 L1330,505 L1335,440 L1352,395 L1320,310 L1308,300 L1308,215 Z"/>
 <ellipse cx="1260" cy="215" rx="48" ry="22" class="w"/>
 <path d="M1213,215 L1213,262 C1225,277 1295,277 1308,262 L1308,215 M1225,272 L1225,292 M1295,272 L1295,292 M1205,295 C1225,307 1290,307 1302,295 M1205,295 L1203,340 M1302,295 L1300,340"/>
 <path class="b" d="M1195,335 C1200,360 1300,362 1308,338"/>
 <path d="M1185,302 C1150,320 1135,360 1130,395 M1312,302 C1338,320 1350,360 1352,395"/>
 <path class="t" d="M1165,330 C1165,370 1320,370 1322,330"/>
 <path class="b" d="M1125,395 C1125,440 1180,457 1240,457 C1300,457 1355,440 1355,395"/>
 <path d="M1130,410 C1135,452 1185,470 1240,470 C1295,470 1350,452 1352,410"/>
 <path d="M1145,440 L1150,500 C1170,540 1310,540 1330,500 L1335,440"/>
 <path d="M1150,500 C1180,528 1300,528 1330,500" class="b"/>
 <!-- screws 100 -->
 <ellipse cx="995" cy="592" rx="22" ry="42" transform="rotate(10 995 592)" class="w"/>
 <path d="M1005,580 L1035,578 L1050,595 L1045,615 L1010,612" style="stroke-width:2.5"/>
 <path d="M1030,585 L1030,610" class="b"/>
 <ellipse cx="875" cy="828" rx="22" ry="42" transform="rotate(10 875 828)" class="w"/>
 <path d="M885,815 L915,812 L932,830 L927,850 L890,847" style="stroke-width:2.5"/>
 <path d="M912,820 L912,845" class="b"/>
 <!-- snap ring 230 lower -->
 <ellipse cx="1195" cy="1312" rx="106" ry="66"/>
 <path class="t" d="M1105,1340 C1085,1290 1130,1262 1195,1260 C1260,1262 1290,1290 1282,1325 C1260,1368 1170,1372 1125,1352"/>
 <path class="b" d="M1092,1335 L1110,1355 M1115,1350 L1135,1365"/>
</g>



<defs>
<g id="bushL" class="s">
 <path class="w" style="stroke:none" d="M330,135 C260,150 210,210 205,290 C215,350 250,420 310,470 L400,700 L890,1010 L1080,1170 L1400,1170 L1540,1000 L1495,800 L1490,680 L1440,590 L1070,340 L1050,260 L960,265 L830,185 L720,175 L560,190 Z"/>
 <path class="b" d="M330,135 C260,150 210,210 205,290 C215,350 250,420 310,470 L340,540 M330,135 L490,150 L560,190"/>
 <path d="M380,170 C310,230 270,330 330,470" style="stroke-width:3"/>
 <path d="M470,160 C400,220 350,330 350,540"/>
 <path class="b" d="M560,190 C470,270 420,380 400,560"/>
 <path class="b" d="M660,190 C560,250 440,400 400,590 C380,640 380,680 410,710 M720,180 C600,240 470,400 440,620 L430,700"/>
 <path d="M760,230 C640,290 520,430 470,640"/>
 <path class="b" d="M560,190 L650,200 L720,175 L790,200 L830,185 L960,270"/>
 <path class="b" d="M960,270 C990,250 1050,255 1070,300 L1060,350 M940,300 L930,380"/>
 <path d="M930,380 C880,400 860,450 900,490 C950,530 1050,510 1075,470 C1090,430 1060,390 1040,370 L1060,340" style="stroke-width:3.5"/>
 <path d="M950,400 C980,430 1020,430 1050,400"/>
 <path class="b" d="M1070,340 L1440,590 C1470,610 1490,640 1490,680 L1495,800"/>
 <path d="M1060,400 L1430,640" class="b"/>
 <path class="b" d="M1270,580 C1140,640 1000,800 960,1000 L990,1080"/>
 <path d="M1300,610 C1180,680 1060,830 1030,1020"/>
 <path class="b" d="M1270,580 L1340,612 M890,1010 L1000,1100 L1080,1170 C1130,1180 1180,1175 1200,1160"/>
 <path class="b" d="M1440,740 L1340,745 C1240,800 1150,900 1130,1020 C1130,1090 1160,1140 1200,1160"/>
 <path d="M1400,790 C1300,830 1200,920 1180,1040 C1180,1100 1210,1140 1250,1150"/>
 <path d="M1290,890 L1380,800 L1470,830 M1290,890 L1350,960 M1260,1090 L1240,960 L1290,890 M1350,960 L1480,870"/>
 <ellipse cx="1440" cy="1020" rx="88" ry="150" transform="rotate(30 1440 1020)" class="b w"/>
 <ellipse cx="1425" cy="1030" rx="58" ry="105" transform="rotate(30 1425 1030)"/>
 <path d="M1330,1130 C1340,1170 1380,1180 1400,1160"/>
</g>
</defs>
<!-- LOWER ARM F1 (scale 4 origin 760,1085) -->
<g class="s" transform="translate(760 1085) scale(0.25)">
 <!-- front tube -->
 <path d="M1130,168 L990,295 L440,860 C350,960 290,1040 260,1102 L62,1541"/>
 <path d="M1182,290 L1040,442 M960,532 L560,940 C500,1010 430,1100 390,1172 C360,1230 320,1330 282,1400 L212,1541"/>
 <path class="t" d="M1172,282 L1100,360 M948,528 L548,935 C490,1005 420,1095 380,1168 M1060,310 L1175,205 M392,1180 C360,1250 330,1330 295,1400"/>
 <path class="t" d="M990,295 C1040,300 1080,330 1095,372 M430,865 C480,870 520,900 545,952 M265,1105 C310,1110 360,1130 390,1172"/>
 <!-- cross tube -->
 <path d="M985,460 C990,438 1012,424 1032,440 C1100,520 1200,620 1320,690 L1790,955"/>
 <path d="M985,460 L975,510 L960,545 C1040,640 1140,740 1230,790 L1640,1015"/>
 <path class="t" d="M975,510 C1050,600 1150,690 1250,750 L1660,985 M1040,600 C1060,570 1090,550 1130,540 M1250,800 C1240,750 1260,710 1300,690"/>
 <!-- rear tube -->
 <path d="M2120,850 L1930,910 L1030,1250 C900,1300 800,1360 740,1400 L540,1541"/>
 <path d="M2150,975 L1980,1030 L1080,1385 C1000,1420 900,1470 820,1520 L790,1541"/>
 <path class="p" d="M2130,958 L1975,1010 L1075,1360 C1000,1390 900,1440 800,1512"/>
 <path class="t" d="M1930,910 C1960,940 1975,980 1980,1030 M1020,1250 C1050,1280 1070,1330 1075,1385 M745,1400 L820,1520 M1950,935 L2125,880"/>
 <!-- bracket plate 1 -->
 <path class="w" d="M160,1112 L185,1057 C195,1042 228,1042 240,1060 L262,1105 L82,1455 L60,1430 C40,1410 30,1390 40,1360 Z"/>
 <ellipse cx="197" cy="1125" rx="8" ry="12" transform="rotate(20 197 1125)" class="b"/>
 <ellipse cx="77" cy="1362" rx="8" ry="12" transform="rotate(20 77 1362)" class="b"/>
</g>
<!-- LOWER ARM F3 (scale 4 origin 620,1400) -->
<g class="s" transform="translate(620 1400) scale(0.25)">
 <path d="M1100,282 L600,640 M1350,282 L625,800"/>
 <path class="t" d="M1340,262 L620,775 M1300,145 L1385,258"/>
 <path d="M622,281 L445,605 M772,281 L750,312 L580,652"/>
 <path class="t" d="M760,300 L590,640"/>
 <!-- bracket 2 -->
 <path class="w" d="M790,152 C795,142 808,140 818,148 L1030,285 C1040,292 1040,305 1032,312 L930,388 L740,258 Z"/>
 <path d="M740,258 L745,290 L925,412 L930,388 M925,412 L1040,328 L1036,300"/>
 <ellipse cx="822" cy="230" rx="15" ry="13" class="b"/>
 <ellipse cx="945" cy="315" rx="15" ry="13" class="b"/>
 <path class="t" d="M780,320 L800,335 M890,392 L905,405"/>
 <!-- ball joint housing -->
 <path d="M445,605 C480,590 550,620 580,660 M445,605 L460,628 C500,628 540,652 565,692 L580,660"/>
 <path d="M585,690 C610,720 625,760 625,800"/>
 <path d="M445,605 L440,622 L300,745 L270,770"/>
 <path class="t" d="M300,745 L360,715 L440,622 M345,735 L400,870 M460,628 L520,740 L490,800 M520,740 L548,692"/>
 <ellipse cx="430" cy="740" rx="92" ry="72" transform="rotate(-35 430 740)" class="t"/>
 <ellipse cx="410" cy="790" rx="56" ry="40" />
 <ellipse cx="410" cy="792" rx="36" ry="23"/>
 <ellipse cx="410" cy="795" rx="16" ry="10" class="b"/>
 <ellipse cx="572" cy="795" rx="27" ry="40" transform="rotate(20 572 795)" class="w"/>
 <path d="M520,790 L560,757 M530,842 L572,838"/>
 <!-- ring -->
 <ellipse cx="255" cy="850" rx="125" ry="76" class="w"/>
 <ellipse cx="262" cy="850" rx="95" ry="56"/>
 <path d="M130,860 C128,930 160,975 250,980 C310,980 340,960 352,935"/>
 <path d="M180,882 C220,850 310,850 345,886"/>
 <path class="b" d="M352,935 L500,870 L530,842"/>
 <path d="M362,912 L500,850 M375,850 L400,880 L380,920"/>
 <path class="t" d="M270,770 C320,760 362,790 376,850"/>
</g>
<g class="s" transform="translate(1000 1095) scale(0.0629)"><use href="#bushL"/>
 <path class="w" d="M430,720 L660,510 C700,470 760,470 800,510 L880,600 C885,640 860,660 850,680 L870,820 L890,960 L560,1300 L140,1010 Z" style="stroke:none"/>
 <path class="b" d="M80,1070 L430,720 L660,510 C700,470 760,470 800,510 L880,600"/>
 <path class="b" d="M880,600 C885,640 860,660 850,680 L870,820 L890,960" style="stroke-dasharray:5 2"/>
 <path class="t" d="M850,660 L400,1090"/>
 <path d="M900,1010 L620,1330 M870,950 L570,1290"/>
</g>
<g class="s" transform="translate(1250 1266) scale(0.0629)"><use href="#bushL"/>
 <path class="w" d="M430,720 L660,510 C700,470 760,470 800,510 L880,600 C885,640 860,660 850,680 L870,820 L890,960 L700,1060 L300,800 Z" style="stroke:none"/>
 <path class="b" d="M300,800 L560,700 L700,640 C740,620 790,640 810,680 L850,760"/>
 <path class="b" d="M850,760 C870,800 870,850 880,900 L890,1000 L780,1070" style="stroke-dasharray:5 2"/>
 <path class="t" d="M820,760 L420,900"/>
</g>


<defs>
<g id="bushA" class="s">
 <path class="w" style="stroke:none" d="M230,115 C160,125 105,190 100,270 C110,330 150,400 200,440 L250,590 L880,1040 L980,1165 L1260,1150 L1440,1000 L1440,890 L1380,800 L1340,620 L1000,360 L940,300 L880,250 L800,270 L700,190 L640,160 L520,185 L400,130 Z"/>
 <path class="b" d="M230,115 C160,125 105,190 100,270 C110,330 150,400 200,440 L250,530 M230,115 L400,130 L430,160"/>
 <path d="M290,140 C220,200 190,300 230,420"/>
 <path d="M400,135 C320,200 270,310 280,440"/>
 <path d="M450,165 C380,230 340,330 340,450 M510,180 C440,250 400,340 400,460"/>
 <path class="b" d="M430,160 L520,185 L640,160 L700,190 L800,270"/>
 <path class="b" d="M640,165 C560,220 470,340 440,470"/>
 <path d="M700,230 C620,270 540,360 500,490"/>
 <ellipse cx="880" cy="285" rx="60" ry="35" class="b w"/>
 <path d="M820,300 L815,400 M940,300 L935,410"/>
 <path d="M780,400 C760,440 790,490 860,505 C930,510 980,470 970,420" style="stroke-width:3.5"/>
 <path d="M820,400 C850,430 910,430 940,400"/>
 <path class="b" d="M940,320 L1000,360 L1340,620"/>
 <path class="b" d="M330,460 L920,830 M250,590 L880,1040 M330,460 L250,590 M920,830 L870,1000"/>
 <circle cx="370" cy="570" r="26" style="fill:#222"/>
 <circle cx="825" cy="890" r="28" class="b"/>
 <path d="M300,660 L390,720 L370,760 L320,720 Z" style="fill:#222"/>
 <path class="b" d="M1180,580 C1060,640 950,760 920,830"/>
 <path d="M1230,600 C1100,680 1000,800 950,870"/>
 <path class="b" d="M1340,620 C1380,680 1390,740 1380,800 M880,1040 C900,1100 940,1150 980,1165 L1070,1150"/>
 <path class="b" d="M1290,715 C1180,760 1080,860 1050,960 C1040,1040 1060,1100 1090,1130"/>
 <path d="M1310,740 C1210,790 1120,880 1095,975 C1090,1050 1110,1100 1140,1130"/>
 <path d="M1300,720 L1390,830 L1440,890 M1130,1050 L1240,940 L1320,820 M1240,940 L1200,1100 M1130,1050 L1190,1110 L1260,1150"/>
 <ellipse cx="1350" cy="1010" rx="92" ry="140" transform="rotate(30 1350 1010)" class="b w"/>
 <ellipse cx="1340" cy="1020" rx="60" ry="100" transform="rotate(30 1340 1020)"/>
</g>
</defs>
<!-- FRAME ASSEMBLY G1 (scale 4 origin 1470,130) -->
<g class="s" transform="translate(1470 130) scale(0.25)">
 <!-- upper-left arm -->
 <path d="M290,380 L545,268 L560,250 L665,195 L705,175 L975,100 C1050,92 1130,115 1152,180 L1130,290 L1100,390 L1095,440 L1060,440 L1060,400"/>
 <path d="M395,478 L500,440 L520,455 L620,420 C700,395 760,410 840,385 L930,360 L1020,365 L1060,400"/>
 <path d="M545,268 L540,290 L690,245 C740,235 770,260 768,300 C765,335 730,340 680,340 L490,440"/>
 <path class="t" d="M410,340 C440,360 460,400 465,445 M610,270 C640,290 650,320 640,350 M300,395 L410,345 M320,420 L460,365 M470,440 L740,335 M560,250 L555,285"/>
 <path class="p" d="M770,175 L700,410 M910,120 L850,380 M985,105 L920,365 M1120,140 L1060,400"/>
 <ellipse cx="1028" cy="200" rx="28" ry="26" class="b"/>
 <path class="t" d="M1010,190 C1020,215 1040,220 1052,210"/>
 <path d="M1150,185 L1480,180 L1640,190 M1140,205 C1250,210 1350,260 1440,330 M1150,215 L1260,260 L1255,290 L1130,285 M1135,295 L1390,335 L1395,400 L1100,390 M1100,390 L1215,420 L1210,445 L1070,445"/>
 <path class="t" d="M1160,230 C1260,250 1360,300 1450,360 L1560,420 M1395,400 L1560,470 M1390,335 L1470,360 M1350,430 L1540,530 M1180,300 L1180,390 M1120,395 L1115,440"/>
 <!-- fins -->
 <path d="M1565,255 C1650,200 1750,130 1800,85 C1815,78 1830,100 1840,120 L1875,165 M1565,255 L1580,270 L1850,225 L1900,180"/>
 <ellipse cx="1780" cy="155" rx="17" ry="26" transform="rotate(30 1780 155)"/>
 <ellipse cx="1660" cy="272" rx="16" ry="6" transform="rotate(15 1660 272)"/>
 <path d="M1630,355 C1720,300 1840,230 1900,180 C1930,170 1960,175 1990,190 L2070,290 M1630,355 L1650,370 L2060,295"/>
 <ellipse cx="1910" cy="245" rx="17" ry="26" transform="rotate(30 1910 245)"/>
 <path d="M1875,165 L2200,152"/>
 <!-- center posts -->
 <path d="M1480,180 C1500,260 1530,360 1560,440 C1580,500 1620,560 1660,600 C1700,640 1740,600 1760,560 L1780,440 C1790,400 1820,380 1860,370 L2060,330"/>
 <path class="p" d="M1470,200 L1560,470 M1520,190 L1600,440"/>
 <path d="M1560,440 L1600,520 L1640,620 M1600,440 C1620,500 1680,560 1700,580 M1760,560 C1740,600 1700,680 1650,760"/>
 <path class="t" d="M1565,465 C1572,462 1580,465 1578,472 M1800,420 C1850,410 1900,420 1930,450 L1940,480 M1780,440 L1790,560 L2200,440 M1800,590 L2200,470"/>
 <path d="M1790,560 L1800,590"/>
 <!-- strut/bar going down-left to bushing 3 -->
 <path d="M1640,640 L1555,735 L1265,1050 M1730,720 L1660,810 L1400,1100"/>
 <path d="M1265,1050 C1290,1020 1350,990 1390,1010 C1410,1040 1405,1080 1395,1100"/>
 <path class="t" d="M1520,770 C1560,760 1620,790 1650,830 M1300,1000 C1340,985 1380,1000 1400,1030 M1290,1070 L1370,1000 M1330,1090 L1395,1030"/>
 <path d="M1560,440 C1600,520 1640,600 1640,640 C1640,700 1600,760 1560,800 M1575,555 L1390,870 M1600,580 L1420,880" />
 <path class="t" d="M1540,560 L1400,850 M1480,760 C1500,770 1510,790 1500,810"/>
 <!-- shock mount bracket -->
 <path d="M1760,600 L1770,640 L1860,640 L1870,690 L1895,960 L1880,975 M1750,620 L1760,660 L1840,660 L1850,700 L1875,950"/>
 <path class="t" d="M1720,700 L1760,790 L1840,780 L1850,830 L1790,920 M1640,810 L1760,830 L1750,930 L1790,940 M1710,760 L1650,800"/>
 <circle cx="1722" cy="882" r="18" class="b"/>
 <circle cx="1722" cy="882" r="8"/>
 <path class="p" d="M1040,210 L1740,800 L1900,940"/>
 <!-- long tube bushing2 -> right -->
 <path d="M215,1160 L1200,895 L1300,875 L1390,880 M330,1285 L500,1240 M640,1195 L1075,1090"/>
 <path class="t" d="M1200,895 C1240,920 1260,960 1255,1000 M390,1120 C420,1150 435,1200 430,1250 M640,1170 L1060,1060 L1250,1005"/>
 <path class="p" d="M230,1200 L1250,930"/>
 <!-- curved tube -->
 <path d="M510,1240 C520,1200 550,1150 580,1145 C620,1150 660,1200 700,1250 C760,1320 820,1380 900,1420 L1130,1541 M510,1240 L620,1380 C680,1450 740,1500 800,1541"/>
 <path class="t" d="M600,1330 C620,1290 660,1270 700,1265 M810,1510 C810,1460 830,1430 860,1410"/>
 <!-- lower arm plate region -->
 <path d="M1420,1040 L1500,1000 L1760,1000 M1400,1100 L1440,1070 L1700,1140 L1900,1230 M1580,900 L1880,975 L2200,1040"/>
 <path class="t" d="M1440,1040 C1560,1060 1680,1100 1780,1160 M1420,1075 L1660,1130 M1500,1000 L1790,1080 M1930,1000 L2060,1100"/>
 <path d="M1745,1000 L1780,1000 L1990,1130 L1985,1165 L1950,1160 L1750,1020 Z"/>
 <ellipse cx="1840" cy="1040" rx="15" ry="7" transform="rotate(25 1840 1040)"/>
 <ellipse cx="1960" cy="1125" rx="15" ry="7" transform="rotate(25 1960 1125)"/>
 <ellipse cx="1785" cy="1155" rx="15" ry="7" transform="rotate(25 1785 1155)"/>
 <path d="M1860,1100 L1870,1120"/>
 <!-- right-bottom big tube -->
 <path d="M1460,1541 L1740,1290 C1800,1240 1860,1210 1940,1190 L2150,1130 L2200,1118 M1700,1541 L1850,1400 C1900,1350 1960,1320 2040,1300 L2200,1258"/>
 <path class="t" d="M1740,1290 C1800,1310 1840,1350 1850,1400 M1880,1210 C1950,1220 1980,1260 1980,1310"/>
 <path class="p" d="M1760,1310 L1980,1240 L2200,1180"/>
</g>
<g class="s" transform="translate(1480 205) scale(0.0629)"><use href="#bushA"/></g>
<g class="s" transform="translate(1465 403.75) scale(0.0629)"><use href="#bushA"/></g>
<g class="s" transform="translate(1728.75 373.75) scale(0.0629)"><use href="#bushA"/></g>
<g class="s" transform="translate(1713.75 573.75) scale(0.0629)"><use href="#bushA"/></g>


<!-- FRAME ASSEMBLY G2 knuckle (scale 4 origin 1900,130) -->
<g class="s" transform="translate(1900 130) scale(0.25)">
 <!-- upper arm top -->
 <path d="M265,185 L330,250 L340,290"/>
 <path d="M330,250 L400,247 M340,290 L350,380 L400,370"/>
 <path d="M300,440 L400,422 M300,470 L400,452"/>
 <!-- knuckle body -->
 <path class="b" d="M1057,539 L1065,590"/>
 <path d="M900,480 L1000,470 C1040,480 1050,530 1040,570 L1020,600 L920,590 M1020,600 L1030,640 L1000,670 M1000,600 L985,690"/>
 <ellipse cx="965" cy="540" rx="25" ry="12" transform="rotate(10 965 540)" class="b"/>
 <path d="M850,700 L960,690 C990,700 995,740 985,790 L960,810 L860,790"/>
 <ellipse cx="905" cy="750" rx="25" ry="12" transform="rotate(10 905 750)" class="b"/>
 <path class="t" d="M880,540 L850,700 M920,590 L900,690 M1040,570 C1060,600 1050,640 1030,640"/>
 <ellipse cx="765" cy="595" rx="95" ry="150" transform="rotate(-28 765 595)" class="b"/>
 <ellipse cx="758" cy="598" rx="110" ry="166" transform="rotate(-28 758 598)" class="t"/>
 <path d="M625,440 C590,520 600,660 680,740 C730,790 800,800 850,770 M650,440 C620,520 630,650 700,725"/>
 <path class="t" d="M740,660 L830,600 M620,400 L625,440 M700,430 L660,450"/>
 <!-- left ear -->
 <path d="M360,540 C365,510 390,490 430,490 L560,500 L600,470 M360,540 C360,580 380,610 410,620 L440,640 L590,790 L610,760"/>
 <ellipse cx="400" cy="575" rx="18" ry="26" class="b"/>
 <path class="t" d="M430,490 L450,600 L600,720 M450,530 L600,540 M560,500 L600,700"/>
 <path class="p" d="M460,600 L620,560"/>
 <!-- lower -->
 <path d="M590,790 L560,830 L530,840 C520,870 530,900 550,920 L600,905 M610,760 L650,790 L740,800 M560,830 C600,840 640,870 660,900 M600,905 C590,940 600,970 620,980"/>
 <ellipse cx="690" cy="825" rx="42" ry="38"/>
 <path class="t" d="M740,800 C780,820 800,860 790,900 L780,960 M660,900 L700,920 M750,860 L800,880"/>
 <!-- lower ball joint nut + boot -->
 <path d="M700,930 L740,915 L780,935 L790,975 L760,1005 L715,1000 L690,970 Z M740,915 L735,955 L760,1005 M735,955 L690,970"/>
 <ellipse cx="770" cy="975" rx="24" ry="30" class="w"/>
 <ellipse cx="772" cy="977" rx="13" ry="17"/>
 <path class="b" d="M580,985 C580,1040 640,1065 700,1065 C760,1060 800,1030 805,990"/>
 <path d="M590,1000 C600,1052 650,1076 700,1078 C770,1072 810,1040 815,1000 M600,985 C620,1030 760,1040 790,995"/>
 <!-- knuckle bottom-right block -->
 <path d="M830,800 L960,830 L1000,900 L1010,950 L960,1000 L940,1060 L900,1070 L820,1040 M800,880 L860,960 L940,940 L1000,900 M860,960 L870,1050"/>
 <path class="p" d="M860,830 L880,950 M940,940 L945,1055 M830,800 C860,840 870,860 800,880"/>
 <!-- lower arm end -->
 <path d="M440,1040 L500,1030 L580,1060 C620,1090 700,1100 760,1080 L800,1060 M600,1170 L720,1130 L725,1160 L620,1195 M560,1110 L600,1170 M700,1100 L720,1130 M470,1070 L560,1110 C590,1090 620,1080 650,1080"/>
 <path d="M500,1040 L580,1085 M520,1035 L600,1080 M540,1045 L560,1100 M760,1085 L740,1125 M780,1075 L760,1115" class="b"/>
 <!-- tube lower-left -->
 <path d="M300,1092 L440,1125 M300,1165 L440,1125 C500,1115 560,1130 600,1170 M300,1315 L540,1250 C580,1240 600,1220 605,1195"/>
 <path class="t" d="M440,1125 C470,1160 480,1220 470,1268"/>
 <path class="p" d="M300,1262 L580,1190"/>
 <!-- lower arm top plate -->
 <path d="M300,1000 L440,1040 M300,960 L500,1030"/>
</g>
<!-- FRAME ASSEMBLY H1 upper arm tip + ball joint (scale 11.87 origin 2000,135) -->
<g class="s" transform="translate(2000 135) scale(0.08425)">
 <path class="b" d="M0,395 C100,380 200,350 320,325 L335,240 C380,170 470,110 540,95 C600,100 660,150 700,205 M320,325 L470,380"/>
 <path d="M335,240 L350,310 L520,260 M400,195 C450,200 500,230 540,250 M470,150 C520,160 570,200 590,235"/>
 <ellipse cx="850" cy="400" rx="322" ry="202" transform="rotate(8 850 400)" class="w" style="stroke-width:3"/>
 <ellipse cx="842" cy="392" rx="280" ry="166" transform="rotate(8 842 392)"/>
 <ellipse cx="838" cy="380" rx="232" ry="136" transform="rotate(8 838 380)" style="stroke-dasharray:4 2"/>
 <ellipse cx="830" cy="352" rx="185" ry="106" transform="rotate(8 830 352)" class="b"/>
 <path d="M620,230 C700,195 900,190 1040,250" style="stroke-width:3.5"/>
 <path class="b" d="M470,380 C480,450 560,540 700,600 C760,620 800,640 810,680 C815,720 780,760 740,800"/>
 <path class="b" d="M1170,440 C1170,520 1150,620 1100,720 C1050,800 950,870 820,950 M1100,720 L1210,720 L1200,600 L1170,570"/>
 <path d="M1160,480 C1140,600 1080,700 1000,780 L820,900 M1090,590 L760,830 M1090,660 L800,880"/>
 <path class="b" d="M870,940 C920,920 990,880 1020,820"/>
 <ellipse cx="318" cy="560" rx="60" ry="24" transform="rotate(20 318 560)" style="fill:#333"/>
 <path class="p" d="M0,690 L290,645 L700,680 L800,640 M0,790 L330,720 L700,780 M290,645 C330,740 340,800 330,830 M440,660 L445,820 M0,970 L330,820 L440,820 L520,940 L620,800 L700,780 M0,1050 L400,890 C440,940 460,1000 470,1040 M380,900 C410,960 420,1020 420,1080 M620,800 L550,920 L640,1000 M620,700 L640,760 L740,740"/>
 <path class="b" d="M0,1215 L400,1090 L640,1040 C680,1020 700,980 680,940 C660,900 650,880 680,850 L740,800"/>
 <path class="b" d="M0,1330 L620,1150 L650,1200"/>
 <path class="b" d="M650,1200 C640,1170 660,1130 700,1100 C740,1050 780,1030 820,1020 L900,1010 C1000,1005 1100,1020 1200,1080 L1300,1150 M820,950 L820,1020"/>
 <path class="b" d="M1100,720 L1470,950 C1600,1000 1750,1150 1850,1300 C1900,1380 1930,1460 1950,1541"/>
 <path d="M1490,970 C1600,1030 1720,1150 1800,1260"/>
 <path d="M1060,790 L1190,900 L1180,940 C1100,980 1000,1000 900,1005 M1100,760 L1200,900 M1180,940 L1330,1090 M1130,980 L1560,1260 M1180,1080 L1540,1290"/>
 <path class="t" d="M1330,1090 L1480,1040 L1650,1130 L1580,1170 L1550,1260 M1480,1040 L1580,1170"/>
 <path class="p" d="M1580,1310 L1900,1390 M1500,1420 L1900,1541 M880,1060 L880,1220"/>
 <path class="b" d="M650,1200 C700,1260 780,1280 860,1260 C900,1240 930,1210 950,1180"/>
 <path class="b" d="M900,1215 C950,1160 1030,1130 1100,1140 L1180,1170 M1100,1140 L1440,1460"/>
 <path d="M920,1240 C970,1190 1040,1165 1090,1170 L1400,1470"/>
 <path d="M700,1290 C740,1340 800,1350 860,1330" style="stroke-width:4"/>
 <path d="M700,1380 C680,1440 680,1500 690,1541 M800,1380 L800,1541" class="p"/>
 <path class="b" d="M0,1450 C50,1400 100,1390 150,1400 L400,1440 C500,1420 580,1360 600,1250 L620,1150"/>
 <path d="M0,1500 L380,1500" style="stroke-dasharray:4 3"/>
 <path d="M200,1455 L380,1455" style="stroke:#888;stroke-width:4"/>
</g>
<!-- FRAME ASSEMBLY G3 lower tubes (scale 4 origin 1470,440) -->
<g class="s" transform="translate(1470 440) scale(0.25)">
 <path d="M1130,301 L1350,415 M800,301 L820,292 L1270,510"/>
 <path class="t" d="M815,280 L1265,500"/>
 <path d="M1460,301 L1350,420 L1175,600 M1700,301 L1360,610 L1290,680"/>
 <path class="t" d="M1690,295 L1350,600 M1260,520 C1310,530 1350,570 1360,610 M1200,610 L1290,530 M1240,640 L1330,560"/>
</g>


<defs>
<g id="nut350" class="s">
 <!-- coords at 4x, flange center at 0,0 -->
 <path class="w" d="M-30,-65 L-60,-70 L-85,-45 L-90,5 L-70,35 L-40,45 L0,60 L40,0 L10,-60 Z"/>
 <path d="M-60,-70 L-55,-30 L-70,35 M-85,-45 L-75,-20 L-90,5 M-30,-65 L-25,-40"/>
 <ellipse cx="0" cy="0" rx="48" ry="62" transform="rotate(18)" class="w"/>
 <ellipse cx="-12" cy="-3" rx="42" ry="58" transform="rotate(18 -12 -3)" class="t" style="fill:none"/>
 <ellipse cx="5" cy="5" rx="21" ry="27" transform="rotate(18 5 5)"/>
 <path class="t" d="M-8,-5 L18,15 M15,-10 L-5,20"/>
</g>
<g id="bolt340" class="s">
 <!-- coords at 4x, head center at 0,0 -->
 <path class="w" d="M-135,-95 L-110,-110 L-20,-55 L-50,0 L-140,-60 Z"/>
 <ellipse cx="0" cy="0" rx="54" ry="64" transform="rotate(-18)" class="w"/>
 <ellipse cx="-8" cy="-4" rx="50" ry="62" transform="rotate(-18 -8 -4)" class="t" style="fill:none"/>
 <path d="M-30,-25 L5,-42 L40,-22 L45,20 L15,42 L-22,30 Z M5,-42 L10,-20 L45,20 M10,-20 L-22,30" class="t"/>
 <circle cx="25" cy="15" r="20" class="b"/>
 <circle cx="26" cy="16" r="10"/>
</g>
<g id="swayset" class="s">
 <!-- coords: S1 tile (4x, origin 1580,800) -->
 <!-- bracket 310 -->
 <path class="w" d="M900,760 C905,720 950,695 990,705 C1015,715 1020,750 1015,800 L1005,820 L900,880 L885,860 Z"/>
 <ellipse cx="958" cy="780" rx="27" ry="32" transform="rotate(15 958 780)"/>
 <path class="t" d="M940,760 L980,800 M975,762 L942,802"/>
 <path d="M885,770 L770,830 C740,845 735,880 740,920 C745,970 780,1010 830,1050 L860,1080 L855,1150 C860,1180 890,1195 920,1190 L990,1110 L995,1020 C980,960 930,910 885,890 L900,880"/>
 <path d="M885,770 L885,860 L800,900"/>
 <path d="M790,860 C800,840 830,840 835,870 C835,900 810,912 795,900 Z"/>
 <path class="t" d="M830,1050 L960,965 M860,1080 L985,1005 M765,880 C765,940 800,990 850,1030 M905,790 L905,870"/>
 <ellipse cx="925" cy="1125" rx="24" ry="32" transform="rotate(15 925 1125)"/>
 <path class="t" d="M908,1105 L945,1145 M942,1108 L910,1146"/>
 <!-- fitting 330 -->
 <path d="M1100,1050 L1125,1045 L1145,1065 L1140,1095 L1115,1105 L1095,1085 Z" style="stroke-width:2.5"/>
 <path d="M1085,1100 L1105,1095 L1110,1125 L1085,1130 Z M1140,1075 L1175,1085 L1178,1105 L1150,1110 M1160,1080 L1160,1110" class="b"/>
 <!-- bushing 320 -->
 <path class="w" d="M1245,1230 C1240,1280 1250,1340 1280,1370 L1380,1430 L1525,1350 L1540,1195 L1430,1120 L1290,1200 Z"/>
 <ellipse cx="1300" cy="1300" rx="30" ry="46" transform="rotate(-10 1300 1300)"/>
 <path d="M1310,1280 L1335,1300 L1330,1330"/>
 <path d="M1290,1200 L1385,1262 L1535,1190 M1385,1262 L1380,1430 M1388,1345 L1530,1275 M1455,1230 L1452,1392"/>
 <path d="M1300,1195 L1395,1255 M1320,1185 L1412,1245 M1345,1172 L1435,1232 M1370,1158 L1460,1220 M1395,1145 L1485,1207 M1415,1132 L1508,1198" style="stroke-width:3.2"/>
 <path class="t" d="M1400,1290 L1440,1272 L1440,1300 L1400,1320 Z M1470,1255 L1515,1235 L1515,1262 L1470,1282 Z M1400,1372 L1440,1352 L1440,1380 L1400,1400 Z M1470,1338 L1515,1318 L1515,1342 L1470,1362 Z"/>
 <!-- bolts 340 -->
 <use href="#bolt340" x="1805" y="1370"/>
 <use href="#bolt340" x="1780" y="1715"/>
</g>
</defs>
<!-- SWAY BAR S1 (scale 4 origin 1580,800) -->
<g class="s" transform="translate(1580 800) scale(0.25)">
 <!-- main bar -->
 <path d="M690,545 L1720,-44 M730,625 L1760,40"/>
 <path class="t" d="M738,608 L1765,25"/>
 <!-- collar L -->
 <path class="w" d="M600,580 L655,552 C700,565 722,625 702,672 L652,688 C650,650 628,605 600,580 Z"/>
 <path d="M640,560 C675,580 695,640 690,676 M590,600 L600,580"/>
 <!-- bar left of collar -->
 <path d="M590,600 L330,750 M655,685 L410,810"/>
 <path class="t" d="M650,670 L400,800"/>
 <!-- curved end going down -->
 <path d="M205,880 C190,950 230,1030 300,1080 C380,1130 470,1150 530,1180 M290,920 C300,980 340,1020 400,1040 C450,1040 480,1060 520,1090 M560,1130 L700,1110"/>
 <path class="t" d="M370,1060 C360,1090 365,1110 375,1125 M240,1010 C300,1030 340,1040 360,1030 M220,950 C260,990 320,1010 380,1012"/>
 <!-- link top joint -->
 <path d="M120,795 L160,790 L185,775 M120,835 L165,845 L185,880"/>
 <ellipse cx="118" cy="815" rx="8" ry="20"/>
 <ellipse cx="200" cy="828" rx="18" ry="52" transform="rotate(8 200 828)"/>
 <ellipse cx="225" cy="830" rx="20" ry="58" transform="rotate(8 225 830)" class="b"/>
 <ellipse cx="250" cy="832" rx="20" ry="62" transform="rotate(8 250 832)"/>
 <ellipse cx="300" cy="840" rx="44" ry="96" transform="rotate(10 300 840)" class="b w"/>
 <ellipse cx="315" cy="842" rx="40" ry="90" transform="rotate(10 315 842)"/>
 <ellipse cx="370" cy="835" rx="38" ry="70" transform="rotate(10 370 835)" class="b w"/>
 <ellipse cx="372" cy="836" rx="26" ry="54" transform="rotate(10 372 836)"/>
 <path class="t" d="M350,830 L395,835"/>
 <!-- link rod -->
 <path d="M355,905 L560,1215 M385,895 L590,1200"/>
 <!-- link bottom joint -->
 <path class="w" d="M610,1215 L690,1160 L745,1130 L750,1170 L745,1200 L700,1260 L640,1305 Z"/>
 <path d="M610,1215 L690,1160 M640,1305 L700,1260 L745,1200 L750,1140"/>
 <path d="M640,1200 C670,1230 690,1260 690,1290 M660,1185 C690,1215 710,1245 710,1275" style="stroke-width:3.5"/>
 <path d="M700,1110 L730,1105 L750,1140 M705,1125 L740,1160" class="b"/>
 <ellipse cx="585" cy="1262" rx="60" ry="48" transform="rotate(20 585 1262)" class="b w"/>
 <ellipse cx="585" cy="1264" rx="43" ry="33" transform="rotate(20 585 1264)"/>
 <path class="t" d="M550,1270 C570,1250 600,1250 620,1270"/>
</g>
<g class="s" transform="translate(1580 800) scale(0.25)"><use href="#swayset"/></g>
<g class="s" transform="translate(1915 606) scale(0.25)"><use href="#swayset"/></g>
<!-- collar R + bar right end (G4: scale 4 origin 2027,440) -->
<g class="s" transform="translate(2027 440) scale(0.25)">
 <path class="w" d="M-60,1395 L-5,1367 C40,1380 62,1440 42,1487 L-8,1503 C-10,1465 -32,1420 -60,1395 Z"/>
 <path d="M-20,1375 C15,1395 35,1455 30,1491"/>
 <path d="M40,1325 L310,1180 C400,1130 500,1115 600,1125 C700,1135 780,1170 840,1220 L990,1330 M60,1420 L340,1260 C420,1220 500,1210 580,1215 C660,1225 720,1255 760,1290 L900,1420"/>
 <path class="t" d="M60,1400 L350,1245 C430,1205 510,1195 590,1200 M310,1180 C335,1200 345,1230 340,1260 M840,1220 C810,1230 790,1260 785,1290"/>
 <path d="M990,1330 C1030,1345 1055,1380 1050,1410 L1055,1450 L1020,1470 C980,1465 940,1440 920,1420 L900,1420 C895,1380 900,1340 930,1325 Z M1050,1410 L1015,1430 L1020,1470"/>
 <ellipse cx="985" cy="1415" rx="17" ry="30" transform="rotate(-10 985 1415)"/>
 <path class="p" d="M930,1325 C920,1360 925,1400 945,1440"/>
 <!-- nut 380 upper -->
 <path class="w" d="M1150,385 L1115,385 L1095,410 L1095,445 L1110,470 L1140,480 Z"/>
 <path d="M1115,385 L1118,410 L1110,470 M1095,410 L1105,420"/>
 <ellipse cx="1155" cy="440" rx="50" ry="55" class="w"/>
 <ellipse cx="1157" cy="443" rx="28" ry="31"/>
 <path class="t" d="M1140,425 L1175,460 M1172,428 L1142,458"/>
 <!-- link 360/370 -->
 <path d="M1305,580 L1340,565 L1362,592 M1300,600 L1322,622 M1305,580 L1300,600"/>
 <ellipse cx="1410" cy="675" rx="95" ry="100" class="w"/>
 <ellipse cx="1395" cy="672" rx="75" ry="92" class="b" style="fill:none"/>
 <ellipse cx="1440" cy="680" rx="66" ry="76" class="b w"/>
 <ellipse cx="1445" cy="682" rx="50" ry="58"/>
 <path class="t" d="M1410,650 L1480,715 M1475,650 L1415,715"/>
 <path d="M1405,755 L1395,1180 M1450,752 L1440,1190"/>
 <path class="t" d="M1428,755 L1418,1185"/>
 <path d="M1440,1180 C1470,1190 1480,1230 1475,1270 C1470,1310 1440,1330 1410,1335 L1370,1345"/>
 <ellipse cx="1370" cy="1250" rx="54" ry="100" transform="rotate(10 1370 1250)" class="w"/>
 <path d="M1190,1300 L1300,1265 M1200,1345 L1320,1312"/>
 <ellipse cx="1200" cy="1325" rx="12" ry="22" transform="rotate(-15 1200 1325)" class="w"/>
 <ellipse cx="1320" cy="1270" rx="22" ry="50" transform="rotate(10 1320 1270)" style="stroke-width:3"/>
 <ellipse cx="1345" cy="1262" rx="20" ry="55" transform="rotate(10 1345 1262)" style="stroke-width:3"/>
 <!-- nut 380 lower -->
 <path class="w" d="M770,1420 L810,1412 L850,1440 L860,1490 L840,1525 L795,1530 L760,1505 L752,1460 Z"/>
 <path d="M810,1412 L805,1440 L840,1525 M770,1420 L805,1440 M752,1460 L775,1470"/>
 <ellipse cx="790" cy="1480" rx="32" ry="42" transform="rotate(-10 790 1480)" class="b"/>
 <ellipse cx="788" cy="1482" rx="16" ry="22" transform="rotate(-10 788 1482)"/>
</g>


<g class="s" transform="translate(1966 674) scale(0.25)"><use href="#nut350"/></g>
<g class="s" transform="translate(1958.5 760.5) scale(0.25)"><use href="#nut350"/></g>
<g class="s" transform="translate(1633.5 866) scale(0.25)"><use href="#nut350"/></g>
<g class="s" transform="translate(1624.5 952) scale(0.25)"><use href="#nut350"/></g>

<!--PARTS-->
</svg>
</body></html>
